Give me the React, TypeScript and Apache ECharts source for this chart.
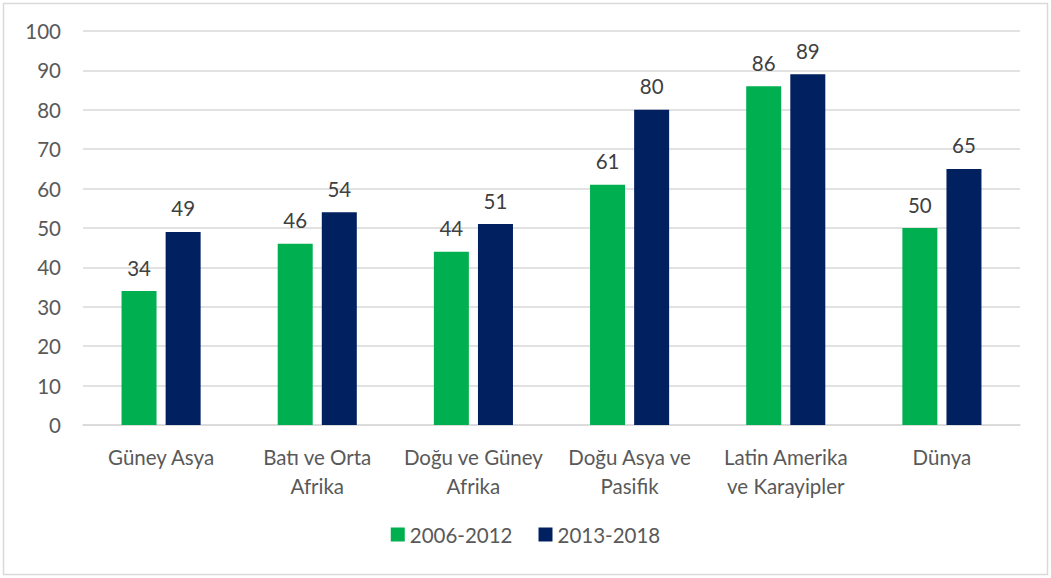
import React, { useEffect, useRef } from "react";
import * as echarts from "echarts";

const categories = [
  "Güney Asya",
  "Batı ve Orta\nAfrika",
  "Doğu ve Güney\nAfrika",
  "Doğu Asya ve\nPasifik",
  "Latin Amerika\nve Karayipler",
  "Dünya",
];
const series2006 = [34, 46, 44, 61, 86, 50];
const series2013 = [49, 54, 51, 80, 89, 65];
const seriesNames = ["2006-2012", "2013-2018"];

const FONT = "Lato, 'Open Sans', sans-serif";
const TEXT = "#595959";
const FS = 20.5;

export default function App() {
  const ref = useRef<HTMLDivElement>(null);
  useEffect(() => {
    if (!ref.current) return;
    const chart = echarts.init(ref.current, undefined, { renderer: "svg" });
    const labelStyle = {
      show: true,
      position: "top" as const,
      distance: 13,
      color: "#404040",
      fontSize: FS,
      fontFamily: FONT,
    };
    chart.setOption({
      animation: false,
      textStyle: { fontFamily: FONT },
      graphic: [
        {
          type: "rect",
          shape: { x: 3.5, y: 3.5, width: 1044, height: 571 },
          style: { fill: "none", stroke: "#d9d9d9", lineWidth: 1.5 },
          silent: true,
        },
      ],
      grid: { left: 83, right: 31, top: 31, bottom: 153, containLabel: false },
      legend: {
        bottom: 28,
        left: "center",
        itemWidth: 14,
        itemHeight: 14,
        itemGap: 26,
        icon: "rect",
        textStyle: { color: TEXT, fontSize: FS, fontFamily: FONT },
        data: seriesNames,
      },
      xAxis: {
        type: "category",
        data: categories,
        axisLine: { show: true, lineStyle: { color: "#d9d9d9", width: 1.5 } },
        axisTick: { show: false },
        axisLabel: {
          color: TEXT,
          fontSize: FS,
          fontFamily: FONT,
          lineHeight: 29,
          margin: 17,
          interval: 0,
        },
      },
      yAxis: {
        type: "value",
        min: 0,
        max: 100,
        interval: 10,
        axisLine: { show: false },
        axisTick: { show: false },
        axisLabel: { color: TEXT, fontSize: FS, fontFamily: FONT, margin: 22 },
        splitLine: { lineStyle: { color: "#d9d9d9", width: 1.5 } },
      },
      series: [
        {
          name: seriesNames[0],
          type: "bar",
          data: series2006,
          barWidth: 35,
          barGap: "26%",
          itemStyle: { color: "#00B050" },
          label: labelStyle,
        },
        {
          name: seriesNames[1],
          type: "bar",
          data: series2013,
          barWidth: 35,
          barGap: "26%",
          itemStyle: { color: "#002060" },
          label: labelStyle,
        },
      ],
    });
    return () => chart.dispose();
  }, []);
  return (
    <div
      ref={ref}
      style={{ position: "absolute", left: 0, top: 0, width: 1051, height: 578, background: "#fff" }}
    />
  );
}
